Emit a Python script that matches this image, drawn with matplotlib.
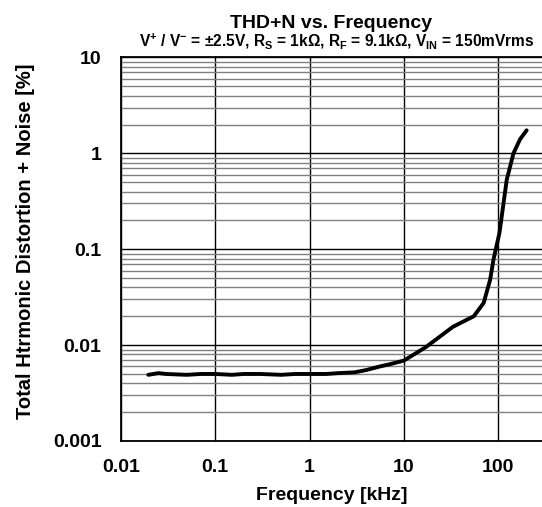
import matplotlib
matplotlib.use("Agg")
import matplotlib.pyplot as plt
from matplotlib.ticker import LogLocator, FixedLocator, NullFormatter

plt.rcParams['font.family'] = ['Liberation Sans', 'DejaVu Sans']
plt.rcParams['mathtext.fontset'] = 'custom'
plt.rcParams['mathtext.rm'] = 'Liberation Sans:bold'
plt.rcParams['mathtext.it'] = 'Liberation Sans:bold'
plt.rcParams['mathtext.bf'] = 'Liberation Sans:bold'
plt.rcParams['mathtext.default'] = 'rm'

freq_khz = [0.0195, 0.025, 0.03, 0.05, 0.07, 0.1, 0.15, 0.2, 0.3, 0.5, 0.7, 1.0,
            1.5, 2.0, 3.0, 4.0, 5.6, 7.0, 10.0, 17.0, 33.0, 55.0, 70.0, 82.0,
            89.0, 103.0, 123.0, 145.0, 170.0, 200.0]
thdn_pct = [0.0049, 0.0051, 0.0050, 0.0049, 0.0050, 0.0050, 0.0049, 0.0050, 0.0050,
            0.0049, 0.0050, 0.0050, 0.0050, 0.0051, 0.0052, 0.0055, 0.0060, 0.0063,
            0.0069, 0.0095, 0.0155, 0.0200, 0.0275, 0.048, 0.078, 0.148, 0.53,
            1.0, 1.4, 1.74]

x_ticks = [0.01, 0.1, 1, 10, 100]
x_labels = ["0.01", "0.1", "1", "10", "100"]
y_ticks = [0.001, 0.01, 0.1, 1, 10]
y_labels = ["0.001", "0.01", "0.1", "1", "10"]

fig = plt.figure(figsize=(5.42, 5.07), dpi=100)
ax = fig.add_axes([0.2232, 0.1302, 0.7768, 0.7564])
ax.set_xscale('log')
ax.set_yscale('log')
ax.set_xlim(0.01, 291)
ax.set_ylim(0.001, 10)

ax.yaxis.set_minor_locator(LogLocator(base=10, subs=range(2, 10)))
ax.yaxis.set_minor_formatter(NullFormatter())
ax.xaxis.set_minor_locator(FixedLocator([]))
ax.set_xticks(x_ticks)
ax.set_xticklabels(x_labels)
ax.set_yticks(y_ticks)
ax.set_yticklabels(y_labels)

ax.grid(True, which='major', axis='both', color='black', lw=1.0)
ax.grid(True, which='minor', axis='y', color='#808080', lw=1.0)
ax.set_axisbelow(True)

ax.tick_params(which='both', length=0, labelsize=14)
ax.tick_params(axis='x', pad=13)
ax.tick_params(axis='y', pad=14)
for lab in ax.get_xticklabels() + ax.get_yticklabels():
    lab.set_fontweight('bold')

for s in ['left', 'bottom', 'top']:
    ax.spines[s].set_color('black')
    ax.spines[s].set_linewidth(1.3)
ax.spines['right'].set_visible(False)

ax.plot(freq_khz, thdn_pct, color='black', lw=2.8, solid_capstyle='round')

ax.set_xlabel("Frequency [kHz]", fontsize=14, fontweight='bold')
ax.xaxis.set_label_coords(0.5, -0.12)
ax.set_ylabel("Total Htrmonic Distortion + Noise [%]", fontsize=14.5, fontweight='bold')
ax.yaxis.set_label_coords(-0.204, 0.5215)

fig.text(0.611, 0.9448, "THD+N vs. Frequency", ha='center', va='baseline',
         fontsize=14, fontweight='bold')
fig.text(0.622, 0.9093,
         r"V$^{+}$ / V$^{-}$ = ±2.5V, R$_{S}$ = 1kΩ, R$_{F}$ = 9.1kΩ, V$_{IN}$ = 150mVrms",
         ha='center', va='baseline', fontsize=11.2, fontweight='bold')

fig.savefig("out.png", dpi=100)
